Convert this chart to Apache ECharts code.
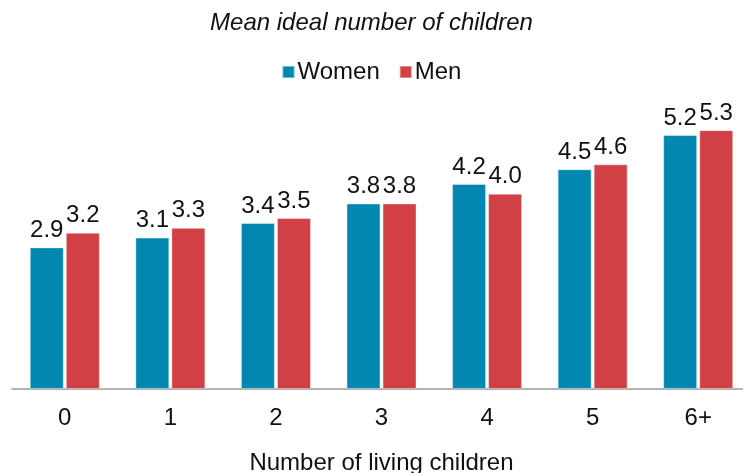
<!DOCTYPE html>
<html><head><meta charset="utf-8">
<script src="https://cdn.jsdelivr.net/npm/echarts@6/dist/echarts.min.js"></script>
<style>html,body{margin:0;padding:0;background:#fff;overflow:hidden}#c{width:743px;height:473px}</style>
</head><body><div id="c"></div>
<script>
const categories = ['0','1','2','3','4','5','6+'];
const women = [2.9, 3.1, 3.4, 3.8, 4.2, 4.5, 5.2];
const men = [3.2, 3.3, 3.5, 3.8, 4.0, 4.6, 5.3];
const titleText = 'Mean ideal number of children';
const xName = 'Number of living children';

const font = 'Liberation Sans, Arial, sans-serif';
const fs = 24;
const chart = echarts.init(document.getElementById('c'), null, {renderer:'canvas'});
const lbl = {show:true, position:'top', distance:5, color:'#111', fontFamily:font, fontSize:fs,
  formatter: p => p.value.toFixed(1)};
chart.setOption({
  animation:false,
  title:{text:titleText, left:'center', top:6, padding:[5,0,5,20],
    textStyle:{fontFamily:font, fontStyle:'italic', fontWeight:'normal', fontSize:fs, color:'#111'}},
  legend:{top:55, left:'center', padding:[5,0,5,20], itemWidth:12, itemHeight:12, itemGap:19,
    icon:'rect', textStyle:{fontFamily:font, fontSize:fs, color:'#111', padding:[0,0,0,-2]}},
  grid:{left:12, width:739, top:96, bottom:84, containLabel:false, outerBoundsMode:'none'},
  xAxis:{type:'category', data:categories, name:xName, nameLocation:'middle', nameGap:62,
    nameTextStyle:{fontFamily:font, fontSize:fs, color:'#111'},
    axisLine:{lineStyle:{color:'#999', width:1.5}}, axisTick:{show:false},
    axisLabel:{fontFamily:font, fontSize:fs, color:'#111', margin:17}},
  yAxis:{type:'value', min:0, max:6, show:false, splitLine:{show:false}},
  series:[
    {name:'Women', type:'bar', data:women, barWidth:34, barGap:'6%', label:lbl,
      itemStyle:{color:'#0288B0', borderColor:'rgba(255,255,255,0.4)', borderWidth:1}},
    {name:'Men', type:'bar', data:men, barWidth:34, barGap:'6%', label:lbl,
      itemStyle:{color:'#D14045', borderColor:'rgba(255,255,255,0.4)', borderWidth:1}}
  ]
});
</script></body></html>
